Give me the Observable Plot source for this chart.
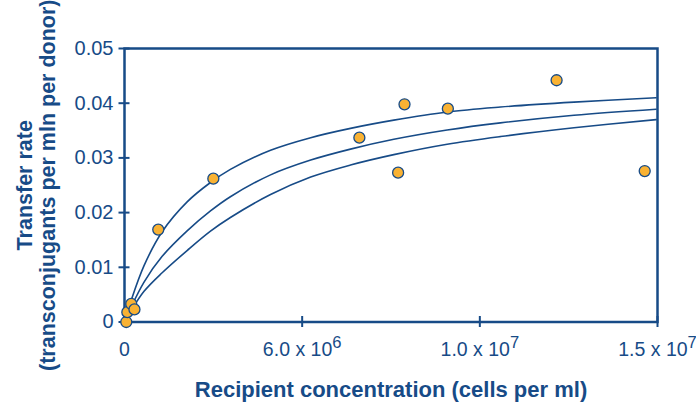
<!DOCTYPE html>
<html>
<head>
<meta charset="utf-8">
<script src="https://cdn.jsdelivr.net/npm/d3@7"></script>
<script src="https://cdn.jsdelivr.net/npm/@observablehq/plot@0.6"></script>
<style>
  html, body { margin: 0; padding: 0; background: #fff; }
  #chart { width: 696px; height: 402px; overflow: hidden; }
</style>
</head>
<body>
<div id="chart"></div>
<script>
// ---- data ----
const pointX = [0.05e6, 0.08e6, 0.19e6, 0.28e6, 0.95e6, 2.50e6, 6.61e6, 7.70e6, 7.88e6, 9.10e6, 12.16e6, 14.64e6];
const pointY = [0.0000, 0.0018, 0.0033, 0.0023, 0.0169, 0.0262, 0.0337, 0.0273, 0.0398, 0.0390, 0.0442, 0.0276];

const curveX      = [0, 0.17e6, 0.55e6, 1.06e6, 1.77e6, 2.42e6, 2.98e6, 4.11e6, 5.24e6, 6.36e6, 7.58e6, 9.08e6, 10.58e6, 12.65e6, 14.96e6];
const upperCurveY = [0, 0.0036, 0.0103, 0.0165, 0.0220, 0.0255, 0.0279, 0.0314, 0.0337, 0.0354, 0.0369, 0.0384, 0.0393, 0.0402, 0.0410];
const middleCurveY= [0, 0.0025, 0.0073, 0.0120, 0.0167, 0.0203, 0.0229, 0.0269, 0.0296, 0.0316, 0.0334, 0.0351, 0.0364, 0.0378, 0.0389];
const lowerCurveY = [0, 0.0019, 0.0056, 0.0090, 0.0131, 0.0166, 0.0191, 0.0233, 0.0265, 0.0287, 0.0306, 0.0325, 0.0339, 0.0355, 0.0370];

const xTicks = [0, 5e6, 1e7, 1.5e7];
const xTickLabels = ["0", "6.0 x 10^6", "1.0 x 10^7", "1.5 x 10^7"];
const yTicks = [0, 0.01, 0.02, 0.03, 0.04, 0.05];
const yTickLabels = ["0", "0.01", "0.02", "0.03", "0.04", "0.05"];

const xTitle = "Recipient concentration (cells per ml)";
const yTitle = "Transfer rate\n(transconjugants per mln per donor)";

// ---- build tables ----
const points = pointX.map((x, i) => ({x, y: pointY[i]}));
const curves = [
  ...curveX.map((x, i) => ({x, y: upperCurveY[i], s: "upper"})),
  ...curveX.map((x, i) => ({x, y: middleCurveY[i], s: "middle"})),
  ...curveX.map((x, i) => ({x, y: lowerCurveY[i], s: "lower"}))
];

const NAVY = "#174b87";
const ORANGE = "#f9b233";

const chart = Plot.plot({
  width: 696,
  height: 402,
  marginLeft: 124,
  marginRight: 39,
  marginTop: 48,
  marginBottom: 80.5,
  style: {fontFamily: "'Liberation Sans', Arial, sans-serif", color: NAVY, background: "#fff"},
  x: {domain: [0, 1.5e7]},
  y: {domain: [0, 0.05]},
  marks: [
    Plot.frame({stroke: NAVY, strokeWidth: 2.5}),
    Plot.line(curves, {x: "x", y: "y", z: "s", stroke: NAVY, strokeWidth: 1.6, curve: "catmull-rom"}),
    // crossing tick marks
    Plot.axisY({ticks: yTicks, tickSize: 11, dx: 5.5, tickFormat: () => "", label: null, stroke: NAVY, strokeWidth: 2}),
    Plot.axisX({ticks: xTicks, tickSize: 11, dy: -5.5, tickFormat: () => "", label: null, stroke: NAVY, strokeWidth: 2}),
    // tick labels
    Plot.axisY({ticks: yTicks, tickSize: 0, tickPadding: 11, tickFormat: d => yTickLabels[yTicks.indexOf(d)], label: null, fontSize: 20, fill: NAVY}),
    Plot.axisX({ticks: xTicks, tickSize: 0, tickPadding: 20, tickFormat: d => xTickLabels[xTicks.indexOf(d)], label: null, fontSize: 19.5, fill: NAVY}),
    Plot.dot(points, {x: "x", y: "y", r: 5.5, fill: ORANGE, stroke: NAVY, strokeWidth: 1.3}),
    Plot.text([xTitle], {frameAnchor: "bottom", dy: 67.5, lineAnchor: "middle", text: d => d, fontSize: 22, fontWeight: "bold", fill: NAVY}),
    Plot.text([yTitle], {frameAnchor: "left", dx: -88.5, rotate: -90, textAnchor: "middle", lineAnchor: "middle", text: d => d, fontSize: 21.5, fontWeight: "bold", fill: NAVY, lineHeight: 1.07})
  ]
});

// superscripts in x tick labels
chart.querySelectorAll("text").forEach(t => {
  const s = t.textContent;
  if (s.includes("^")) {
    const [base, exp] = s.split("^");
    t.textContent = base;
    const sp = document.createElementNS("http://www.w3.org/2000/svg", "tspan");
    sp.setAttribute("dy", "-0.45em");
    sp.setAttribute("font-size", "0.85em");
    sp.textContent = exp;
    t.appendChild(sp);
  }
});

document.getElementById("chart").appendChild(chart);
</script>
</body>
</html>
